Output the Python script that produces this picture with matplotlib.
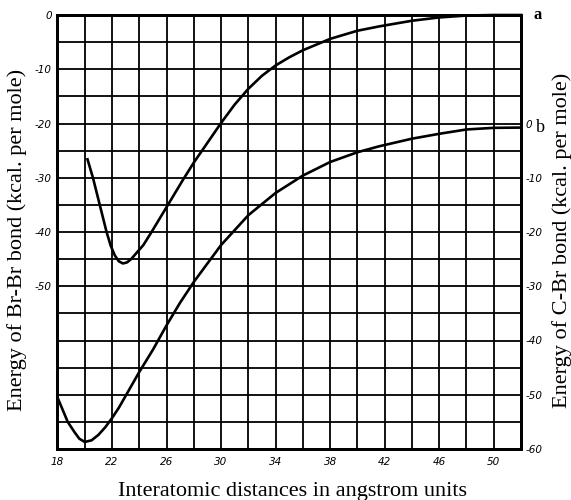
import numpy as np
import matplotlib.pyplot as plt

# Br-Br curve (a), energies read on the left axis
r_brbr = [2.02, 2.06, 2.11, 2.16, 2.19, 2.22, 2.25, 2.28, 2.31, 2.34, 2.43, 2.49, 2.61, 2.72, 2.80,
          3.00, 3.10, 3.20, 3.30, 3.40, 3.50, 3.60, 3.80, 4.00, 4.16, 4.40, 4.60, 4.80, 5.00, 5.20]
e_brbr = [-26.6, -30.0, -35.0, -40.0, -42.5, -44.3, -45.4, -45.8, -45.6, -45.0, -42.4, -40.0, -35.0, -30.4, -27.2,
          -19.9, -16.5, -13.6, -11.2, -9.3, -7.8, -6.5, -4.4, -2.9, -2.1, -1.06, -0.45, -0.1, 0.0, 0.0]

# C-Br curve (b), energies read on the right axis
r_cbr = [1.80, 1.875, 1.925, 1.96, 2.00, 2.05, 2.10, 2.15, 2.20, 2.25, 2.30, 2.40, 2.50, 2.60, 2.70, 2.80,
         3.00, 3.20, 3.40, 3.60, 3.80, 4.00, 4.16, 4.40, 4.60, 4.80, 5.00, 5.20]
e_cbr = [-50.5, -55.0, -56.9, -58.1, -58.7, -58.4, -57.4, -56.0, -54.3, -52.4, -50.2, -45.8, -41.7, -37.2, -33.0, -29.2,
         -22.4, -16.9, -12.8, -9.6, -7.1, -5.3, -4.2, -2.8, -1.9, -1.1, -0.8, -0.75]

x_ticks = [1.8, 2.2, 2.6, 3.0, 3.4, 3.8, 4.2, 4.6, 5.0]
x_labels = ['18', '22', '26', '30', '34', '38', '42', '46', '50']
left_ticks = [0, -10, -20, -30, -40, -50]
right_ticks = [0, -10, -20, -30, -40, -50, -60]

serif = ['Liberation Serif', 'DejaVu Serif']
tick_font = dict(family='DejaVu Sans', style='italic', size=7.5)

fig = plt.figure(figsize=(5.71, 5.0), dpi=100)
ax = fig.add_axes([0.1007, 0.102, 0.8117, 0.868])

ax.set_xlim(1.8, 5.2)
ax.set_ylim(-80, 0)

# grid: vertical every 0.2 A, horizontal every 5 kcal
ax.set_xticks(np.arange(1.8, 5.21, 0.2), minor=True)
ax.set_yticks(np.arange(-80, 0.1, 5), minor=True)
ax.grid(True, which='both', color='black', linewidth=1.3)
ax.set_axisbelow(True)

ax.set_xticks(x_ticks)
ax.set_xticklabels(x_labels, fontdict=tick_font)
ax.set_yticks(left_ticks)
ax.set_yticklabels([str(t) for t in left_ticks], fontdict=tick_font)
ax.tick_params(which='both', length=0)
ax.tick_params(axis='x', pad=6)
ax.tick_params(axis='y', pad=4)

for s in ax.spines.values():
    s.set_linewidth(2)

ax.plot(r_brbr, e_brbr, color='black', linewidth=1.9, clip_on=False,
        solid_joinstyle='round')

ax2 = ax.twinx()
ax2.set_ylim(-60, 20)
ax2.set_yticks(right_ticks)
ax2.set_yticklabels([str(t) for t in right_ticks], fontdict=tick_font)
ax2.tick_params(length=0, pad=3)
for s in ax2.spines.values():
    s.set_linewidth(2)
ax2.plot(r_cbr, e_cbr, color='black', linewidth=1.9, clip_on=False,
         solid_joinstyle='round')

ax.annotate('a', xy=(5.2, 0), xytext=(9, 0), textcoords='offset points',
            family=serif, fontsize=12, fontweight='bold', va='center')
ax2.annotate('b', xy=(5.2, -0.5), xytext=(11, -1), textcoords='offset points',
             family=serif, fontsize=13, va='center')

fig.text(0.029, 0.52, 'Energy of Br-Br bond (kcal. per mole)', rotation=90,
         family=serif, fontsize=16, ha='center', va='center')
fig.text(0.984, 0.52, 'Energy of C-Br bond (kcal. per mole)', rotation=90,
         family=serif, fontsize=16, ha='center', va='center')
fig.text(0.512, 0.008, 'Interatomic distances in angstrom units',
         family=serif, fontsize=16, ha='center', va='baseline')

plt.savefig('out.png', dpi=100)
